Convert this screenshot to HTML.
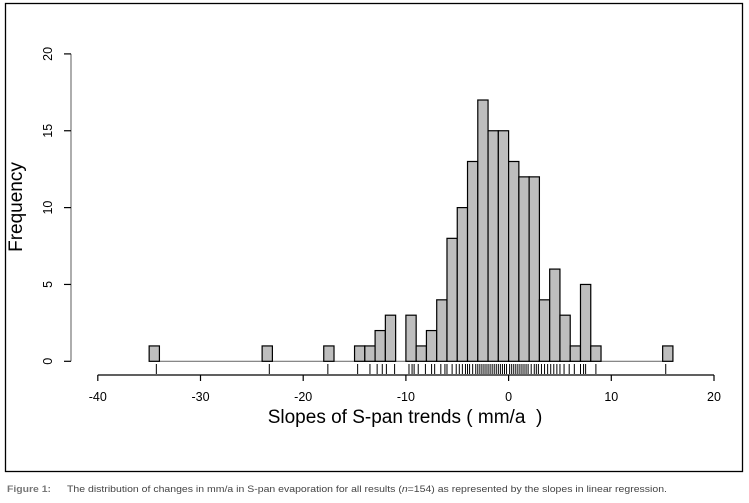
<!DOCTYPE html>
<html><head><meta charset="utf-8">
<style>
html,body{margin:0;padding:0;background:#fff;}
svg{display:block;font-family:"Liberation Sans",sans-serif;}
</style></head>
<body>
<svg width="749" height="503" viewBox="0 0 749 503">
<rect x="5.5" y="3.5" width="737" height="468" fill="none" stroke="#000" stroke-width="1.3"/>
<g id="plot"></g>
<text x="22" y="207" font-size="19" text-anchor="middle" transform="rotate(-90 22 207)">Frequency</text>
<text x="405" y="423" font-size="19" text-anchor="middle">Slopes of S-pan trends ( mm/a&#160; )</text>
<text x="7" y="492" font-size="9.5" font-weight="bold" fill="#777" textLength="44" lengthAdjust="spacingAndGlyphs">Figure 1:</text>
<text x="67" y="492" font-size="9.5" fill="#444" textLength="600" lengthAdjust="spacingAndGlyphs">The distribution of changes in mm/a in S-pan evaporation for all results (<tspan font-style="italic">n</tspan>=154) as represented by the slopes in linear regression.</text>
</svg>
<script>
const binStarts = [-35,-24,-18,-15,-14,-13,-12,-10,-9,-8,-7,-6,-5,-4,-3,-2,-1,0,1,2,3,4,5,6,7,8,15];
const counts    = [1,1,1,1,1,2,3,3,1,2,4,8,10,13,17,15,15,13,12,12,4,6,3,1,5,1,1];
const xTicks = [-40,-30,-20,-10,0,10,20];
const yTicks = [0,5,10,15,20];
const rugValues = [-34.3,-23.3,-17.6,-14.7,-13.5,-12.8,-12.3,-11.9,-11.1,-9.7,-9.4,-9.2,-8.8,-8.1,-7.5,-7.2,-6.6,-6.2,-6.0,-5.5,-5.1,-4.8,-4.5,-4.2,-4.0,-3.8,-3.5,-3.2,-3.0,-2.8,-2.6,-2.4,-2.2,-2.0,-1.8,-1.6,-1.4,-1.2,-1.0,-0.8,-0.6,-0.4,-0.2,0.1,0.3,0.5,0.7,0.9,1.1,1.3,1.5,1.7,1.9,2.2,2.5,2.7,2.9,3.2,3.5,3.8,4.1,4.4,4.7,5.0,5.4,5.9,6.4,7.0,7.3,7.5,8.5,15.3];
const X = v => 508.6 + 10.27*v;
const Y = c => 361.3 - 15.37*c;
const NS = 'http://www.w3.org/2000/svg';
const g = document.getElementById('plot');
function mk(tag, attrs){const e=document.createElementNS(NS,tag);for(const k in attrs)e.setAttribute(k,attrs[k]);g.appendChild(e);return e;}
// baseline
const bl = mk('line',{x1:X(binStarts[0]),x2:X(binStarts[binStarts.length-1]+1),y1:Y(0),y2:Y(0),stroke:'#777','stroke-width':1.2});


binStarts.forEach((b,i)=>{
  const r = mk('rect',{x:X(b),y:Y(counts[i]),width:X(b+1)-X(b),height:Y(0)-Y(counts[i]),fill:'#bebebe',stroke:'#000','stroke-width':1.2});
  
  
});
rugValues.forEach(v=>{
  const l = mk('line',{x1:X(v),x2:X(v),y1:364,y2:374,stroke:'#000','stroke-width':1});
  
  
});
// x axis
const xa = mk('line',{x1:X(xTicks[0]),x2:X(xTicks[xTicks.length-1]),y1:375,y2:375,stroke:'#000','stroke-width':1.3});


xTicks.forEach(t=>{
  const tk = mk('line',{x1:X(t),x2:X(t),y1:375,y2:381,stroke:'#000','stroke-width':1.2});
  
  
  const tx = mk('text',{x:X(t),y:401,'font-size':12.5,'text-anchor':'middle'});
  tx.textContent = t;
  
  
});
// y axis
const ya = mk('line',{x1:71,x2:71,y1:Y(yTicks[0]),y2:Y(yTicks[yTicks.length-1]),stroke:'#777','stroke-width':1.2});


yTicks.forEach(t=>{
  const tk = mk('line',{x1:64,x2:71,y1:Y(t),y2:Y(t),stroke:'#000','stroke-width':1.2});
  
  
  const tx = mk('text',{x:52,y:Y(t),'font-size':12.5,'text-anchor':'middle',transform:`rotate(-90 52 ${Y(t)})`});
  tx.textContent = t;
  
  
});
</script>
</body></html>
